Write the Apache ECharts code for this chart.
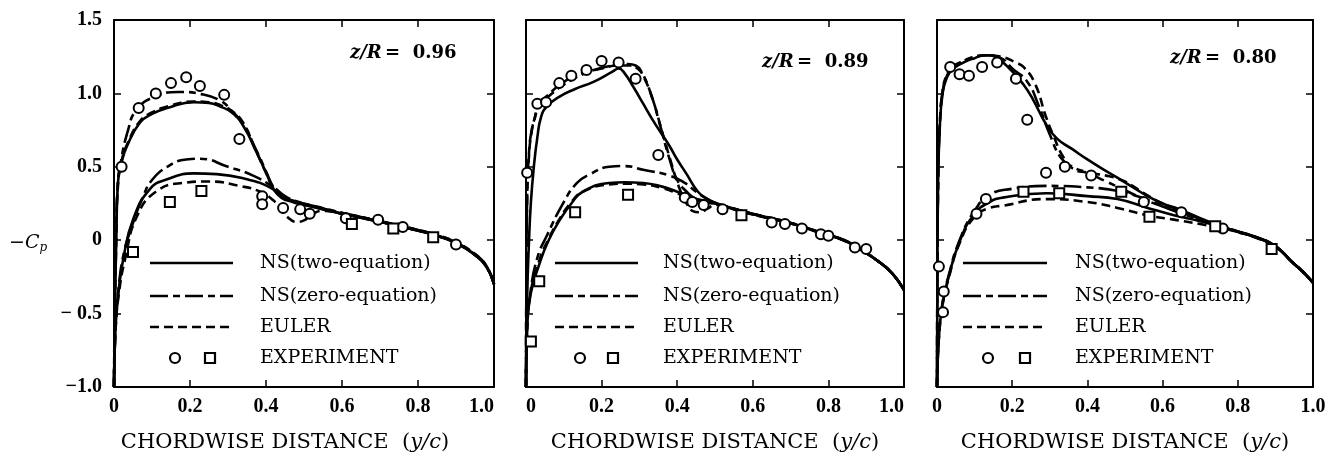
<!DOCTYPE html>
<html>
<head>
<meta charset="utf-8">
<script src="https://cdn.jsdelivr.net/npm/echarts@6/dist/echarts.min.js"></script>
<style>
  html, body { margin: 0; padding: 0; background: #fff; }
  #chart { width: 1330px; height: 460px; }
</style>
</head>
<body>
<div id="chart"></div>
<script>
// tick labels
var xTickLabels = ['0', '0.2', '0.4', '0.6', '0.8', '1.0'];
var yTickLabels = ['\u22121.0', '\u2212 0.5', '0', '0.5', '1.0', '1.5'];
var stationLabels = ['0.96', '0.89', '0.80'];
var legendNames = ['NS(two-equation)', 'NS(zero-equation)', 'EULER', 'EXPERIMENT'];

// ---- panel 1, z/R = 0.96 ----
var p1_ns2_up = [[0,-1],[0.003,-0.4],[0.006,0],[0.01,0.38],[0.02,0.53],[0.034,0.64],[0.068,0.8],[0.1,0.86],[0.14,0.9],[0.21,0.94],[0.25,0.935],[0.28,0.91],[0.31,0.87],[0.34,0.78],[0.375,0.6],[0.4,0.46],[0.42,0.35],[0.44,0.29],[0.47,0.26],[0.5,0.24],[0.55,0.21],[0.6,0.18],[0.7,0.125],[0.8,0.065],[0.85,0.03],[0.9,-0.02],[0.95,-0.1],[0.98,-0.18],[1.0,-0.3]];
var p1_ns2_lo = [[0,-1],[0.004,-0.6],[0.012,-0.35],[0.025,-0.12],[0.05,0.14],[0.095,0.35],[0.14,0.415],[0.21,0.455],[0.27,0.45],[0.35,0.415],[0.41,0.36],[0.44,0.3],[0.47,0.265],[0.5,0.245],[0.55,0.212],[0.6,0.182],[0.7,0.127],[0.8,0.067],[0.85,0.032],[0.9,-0.018],[0.95,-0.1],[0.98,-0.18],[1.0,-0.3]];
var p1_ns0_up = [[0,-1],[0.002,-0.4],[0.005,0.1],[0.01,0.35],[0.016,0.5],[0.037,0.75],[0.06,0.89],[0.11,0.98],[0.17,1.01],[0.23,0.995],[0.28,0.95],[0.31,0.88],[0.34,0.79],[0.375,0.61],[0.4,0.47],[0.42,0.36],[0.44,0.3],[0.47,0.265],[0.5,0.245],[0.55,0.215],[0.6,0.185],[0.7,0.13],[0.8,0.07],[0.85,0.035],[0.9,-0.015],[0.95,-0.095],[0.98,-0.175],[1.0,-0.3]];
var p1_ns0_lo = [[0,-1],[0.004,-0.6],[0.012,-0.33],[0.025,-0.1],[0.047,0.095],[0.077,0.3],[0.1,0.41],[0.14,0.5],[0.19,0.55],[0.226,0.555],[0.3,0.5],[0.366,0.44],[0.42,0.36],[0.45,0.3],[0.48,0.265],[0.5,0.25],[0.55,0.218],[0.6,0.187],[0.7,0.13],[0.8,0.07],[0.85,0.035],[0.9,-0.015],[0.95,-0.095],[0.98,-0.175],[1.0,-0.3]];
var p1_eu_up = [[0,-1],[0.003,-0.4],[0.006,0],[0.01,0.39],[0.02,0.54],[0.034,0.65],[0.068,0.81],[0.1,0.87],[0.14,0.91],[0.21,0.945],[0.25,0.94],[0.28,0.92],[0.31,0.88],[0.34,0.8],[0.37,0.63],[0.4,0.46],[0.42,0.35],[0.44,0.3],[0.47,0.27],[0.5,0.25],[0.55,0.215],[0.6,0.183],[0.7,0.127],[0.8,0.066],[0.85,0.03],[0.9,-0.02],[0.95,-0.1],[0.98,-0.18],[1.0,-0.3]];
var p1_eu_lo = [[0,-1],[0.004,-0.62],[0.013,-0.36],[0.03,-0.12],[0.06,0.16],[0.11,0.33],[0.18,0.39],[0.25,0.4],[0.33,0.37],[0.385,0.33],[0.42,0.27],[0.44,0.21],[0.46,0.15],[0.48,0.125],[0.5,0.135],[0.52,0.175],[0.55,0.2],[0.6,0.18],[0.7,0.125],[0.8,0.065],[0.85,0.03],[0.9,-0.02],[0.95,-0.1],[0.98,-0.18],[1.0,-0.3]];
var p1_exp_up = [[0.02,0.5],[0.065,0.9],[0.11,1.0],[0.15,1.07],[0.19,1.11],[0.226,1.05],[0.29,0.99],[0.33,0.69],[0.39,0.3],[0.39,0.245],[0.445,0.22],[0.49,0.21],[0.515,0.18],[0.61,0.15],[0.695,0.14],[0.76,0.09],[0.9,-0.03]];
var p1_exp_lo = [[0.05,-0.08],[0.147,0.26],[0.23,0.335],[0.626,0.11],[0.735,0.08],[0.84,0.02]];

// ---- panel 2, z/R = 0.89 ----
var p2_ns2_up = [[0,-1],[0.003,-0.4],[0.008,0],[0.013,0.26],[0.02,0.48],[0.03,0.7],[0.04,0.84],[0.055,0.91],[0.09,0.98],[0.13,1.03],[0.18,1.08],[0.23,1.15],[0.245,1.17],[0.26,1.14],[0.285,1.04],[0.31,0.93],[0.335,0.82],[0.36,0.72],[0.38,0.64],[0.4,0.55],[0.425,0.45],[0.455,0.33],[0.48,0.28],[0.5,0.255],[0.55,0.215],[0.6,0.178],[0.7,0.117],[0.79,0.042],[0.84,0.002],[0.875,-0.048],[0.93,-0.14],[0.97,-0.23],[1.0,-0.34]];
var p2_ns2_lo = [[0,-1],[0.003,-0.62],[0.012,-0.37],[0.037,-0.15],[0.06,0.0],[0.09,0.14],[0.12,0.25],[0.15,0.33],[0.22,0.39],[0.26,0.395],[0.31,0.39],[0.36,0.365],[0.4,0.33],[0.44,0.29],[0.47,0.27],[0.5,0.25],[0.55,0.213],[0.6,0.176],[0.7,0.115],[0.79,0.04],[0.84,0.0],[0.875,-0.05],[0.93,-0.14],[0.97,-0.23],[1.0,-0.34]];
var p2_ns0_up = [[0,-1],[0.001,-0.3],[0.003,0.3],[0.008,0.6],[0.015,0.75],[0.024,0.84],[0.03,0.93],[0.05,0.97],[0.09,1.06],[0.13,1.12],[0.18,1.16],[0.23,1.19],[0.27,1.2],[0.29,1.19],[0.305,1.15],[0.33,1.0],[0.355,0.78],[0.38,0.55],[0.4,0.41],[0.425,0.33],[0.45,0.28],[0.48,0.26],[0.5,0.25],[0.55,0.215],[0.6,0.18],[0.7,0.118],[0.79,0.043],[0.84,0.003],[0.875,-0.047],[0.93,-0.14],[0.97,-0.23],[1.0,-0.34]];
var p2_ns0_lo = [[0,-1],[0.003,-0.6],[0.012,-0.35],[0.03,-0.12],[0.055,0.03],[0.1,0.26],[0.135,0.39],[0.17,0.45],[0.22,0.5],[0.26,0.505],[0.31,0.48],[0.38,0.44],[0.42,0.39],[0.45,0.33],[0.48,0.28],[0.5,0.255],[0.55,0.216],[0.6,0.18],[0.7,0.118],[0.79,0.043],[0.84,0.003],[0.875,-0.047],[0.93,-0.14],[0.97,-0.23],[1.0,-0.34]];
var p2_eu_up = [[0,-1],[0.001,-0.3],[0.003,0.28],[0.008,0.58],[0.015,0.74],[0.025,0.85],[0.035,0.92],[0.06,0.98],[0.1,1.06],[0.15,1.13],[0.2,1.17],[0.25,1.19],[0.275,1.19],[0.295,1.17],[0.31,1.12],[0.335,0.96],[0.36,0.74],[0.385,0.52],[0.405,0.36],[0.425,0.25],[0.44,0.2],[0.46,0.19],[0.48,0.215],[0.5,0.24],[0.55,0.212],[0.6,0.176],[0.7,0.115],[0.79,0.04],[0.84,0.0],[0.875,-0.05],[0.93,-0.14],[0.97,-0.23],[1.0,-0.34]];
var p2_eu_lo = [[0,-1],[0.003,-0.6],[0.012,-0.36],[0.035,-0.14],[0.06,0.01],[0.09,0.15],[0.12,0.26],[0.15,0.33],[0.22,0.38],[0.26,0.385],[0.31,0.38],[0.36,0.355],[0.4,0.32],[0.44,0.28],[0.47,0.26],[0.5,0.245],[0.55,0.21],[0.6,0.175],[0.7,0.114],[0.79,0.04],[0.84,0.0],[0.875,-0.05],[0.93,-0.14],[0.97,-0.23],[1.0,-0.34]];
var p2_exp_up = [[0.003,0.46],[0.03,0.93],[0.053,0.94],[0.088,1.07],[0.12,1.12],[0.16,1.16],[0.2,1.22],[0.245,1.21],[0.29,1.1],[0.35,0.58],[0.42,0.29],[0.44,0.26],[0.47,0.24],[0.52,0.21],[0.65,0.12],[0.685,0.11],[0.73,0.08],[0.78,0.04],[0.8,0.03],[0.87,-0.05],[0.9,-0.06]];
var p2_exp_lo = [[0.013,-0.69],[0.035,-0.28],[0.13,0.19],[0.27,0.31],[0.57,0.17]];

// ---- panel 3, z/R = 0.80 ----
var p3_ns2_up = [[0,-1],[0.001,-0.3],[0.003,0.4],[0.008,0.8],[0.015,1.0],[0.025,1.1],[0.04,1.16],[0.07,1.21],[0.1,1.24],[0.13,1.26],[0.16,1.24],[0.2,1.15],[0.23,1.06],[0.255,0.96],[0.29,0.79],[0.32,0.69],[0.36,0.62],[0.4,0.55],[0.45,0.47],[0.49,0.41],[0.56,0.3],[0.6,0.25],[0.645,0.21],[0.7,0.15],[0.76,0.09],[0.8,0.06],[0.85,0.02],[0.9,-0.04],[0.945,-0.15],[0.975,-0.22],[1.0,-0.29]];
var p3_ns2_lo = [[0,-1],[0.005,-0.66],[0.015,-0.43],[0.03,-0.26],[0.06,-0.01],[0.1,0.18],[0.14,0.26],[0.175,0.29],[0.29,0.32],[0.4,0.3],[0.48,0.28],[0.56,0.22],[0.63,0.17],[0.7,0.13],[0.76,0.087],[0.8,0.058],[0.85,0.018],[0.9,-0.042],[0.945,-0.15],[0.975,-0.22],[1.0,-0.29]];
var p3_ns0_up = [[0,-1],[0.001,-0.3],[0.003,0.42],[0.008,0.82],[0.015,1.02],[0.025,1.12],[0.04,1.18],[0.07,1.22],[0.1,1.25],[0.13,1.26],[0.17,1.24],[0.2,1.17],[0.24,1.08],[0.27,0.92],[0.3,0.72],[0.33,0.56],[0.36,0.5],[0.4,0.46],[0.45,0.4],[0.5,0.34],[0.55,0.28],[0.6,0.23],[0.65,0.19],[0.7,0.145],[0.76,0.088],[0.8,0.058],[0.85,0.018],[0.9,-0.04],[0.945,-0.15],[0.975,-0.22],[1.0,-0.29]];
var p3_ns0_lo = [[0,-1],[0.005,-0.65],[0.015,-0.42],[0.03,-0.25],[0.06,0.0],[0.1,0.2],[0.14,0.31],[0.2,0.35],[0.29,0.37],[0.4,0.36],[0.47,0.34],[0.52,0.31],[0.575,0.26],[0.63,0.2],[0.7,0.14],[0.76,0.09],[0.8,0.06],[0.85,0.02],[0.9,-0.04],[0.945,-0.15],[0.975,-0.22],[1.0,-0.29]];
var p3_eu_up = [[0,-1],[0.001,-0.3],[0.003,0.41],[0.008,0.81],[0.015,1.01],[0.025,1.11],[0.04,1.17],[0.07,1.22],[0.1,1.25],[0.13,1.26],[0.17,1.25],[0.21,1.21],[0.23,1.18],[0.26,1.07],[0.29,0.84],[0.31,0.71],[0.335,0.57],[0.36,0.49],[0.4,0.46],[0.45,0.44],[0.49,0.41],[0.52,0.37],[0.55,0.32],[0.6,0.25],[0.65,0.2],[0.7,0.145],[0.76,0.087],[0.8,0.057],[0.85,0.017],[0.9,-0.042],[0.945,-0.15],[0.975,-0.22],[1.0,-0.29]];
var p3_eu_lo = [[0,-1],[0.005,-0.67],[0.015,-0.44],[0.03,-0.27],[0.06,-0.02],[0.1,0.16],[0.14,0.22],[0.175,0.235],[0.29,0.28],[0.4,0.26],[0.48,0.22],[0.56,0.17],[0.63,0.14],[0.7,0.11],[0.76,0.08],[0.8,0.055],[0.85,0.015],[0.9,-0.045],[0.945,-0.15],[0.975,-0.22],[1.0,-0.29]];
var p3_exp_up = [[0.005,-0.18],[0.018,-0.35],[0.016,-0.49],[0.035,1.18],[0.06,1.13],[0.085,1.12],[0.12,1.18],[0.16,1.21],[0.21,1.1],[0.24,0.82],[0.29,0.46],[0.34,0.5],[0.41,0.44],[0.55,0.26],[0.65,0.19],[0.76,0.08],[0.105,0.18],[0.13,0.28]];
var p3_exp_lo = [[0.23,0.33],[0.325,0.32],[0.49,0.33],[0.565,0.16],[0.74,0.095],[0.89,-0.06]];

var panels = [
  { ns2: [p1_ns2_up, p1_ns2_lo], ns0: [p1_ns0_up, p1_ns0_lo], eu: [p1_eu_up, p1_eu_lo], up: p1_exp_up, lo: p1_exp_lo },
  { ns2: [p2_ns2_up, p2_ns2_lo], ns0: [p2_ns0_up, p2_ns0_lo], eu: [p2_eu_up, p2_eu_lo], up: p2_exp_up, lo: p2_exp_lo },
  { ns2: [p3_ns2_up, p3_ns2_lo], ns0: [p3_ns0_up, p3_ns0_lo], eu: [p3_eu_up, p3_eu_lo], up: p3_exp_up, lo: p3_exp_lo }
];

var gridBox = [
  { left: 114, top: 20, width: 380, height: 367 },
  { left: 526, top: 20, width: 378, height: 367 },
  { left: 937, top: 20, width: 376, height: 367 }
];
// the first panel's axis title sits a little left of centre
var titlePad = [[0, 38, 0, 0], 0, 0];

var dashZero = [18, 5, 7, 5];
var dashEuler = [9, 5];
var serif = 'DejaVu Serif';
var tickFont = 'Liberation Serif';

var myChart = echarts.init(document.getElementById('chart'), null, { renderer: 'canvas' });

var xAxes = [], yAxes = [], series = [], graphics = [];

var frameLine = { show: true, onZero: false, lineStyle: { color: '#000', width: 2 } };
var inTick = { show: true, inside: true, length: 7, lineStyle: { color: '#000', width: 1.5 } };

for (var i = 0; i < 3; i++) {
  // bottom + top x axes
  xAxes.push({
    type: 'value', gridIndex: i, min: 0, max: 1, interval: 0.2, position: 'bottom',
    axisLine: frameLine, axisTick: inTick, splitLine: { show: false },
    axisLabel: {
      margin: 10, color: '#000', fontFamily: tickFont, fontWeight: 'bold', fontSize: 20,
      alignMinLabel: i == 1 ? 'left' : 'center', alignMaxLabel: i == 2 ? 'center' : 'right',
      formatter: function (v) { return xTickLabels[Math.round(v / 0.2)]; }
    },
    name: 'CHORDWISE DISTANCE  ({it|y/c})', nameLocation: 'middle', nameGap: 45,
    nameTextStyle: {
      color: '#000', fontFamily: serif, fontSize: 21, padding: titlePad[i],
      rich: { it: { fontFamily: serif, fontStyle: 'italic', fontSize: 21, color: '#000' } }
    }
  });
  xAxes.push({
    type: 'value', gridIndex: i, min: 0, max: 1, interval: 0.2, position: 'top',
    axisLine: frameLine, axisTick: inTick, axisLabel: { show: false }, splitLine: { show: false }
  });
  // left + right y axes
  yAxes.push({
    type: 'value', gridIndex: i, min: -1, max: 1.5, interval: 0.5, position: 'left',
    axisLine: frameLine, axisTick: inTick, splitLine: { show: false },
    axisLabel: {
      show: i == 0, margin: 12, color: '#000', fontFamily: tickFont, fontWeight: 'bold', fontSize: 20,
      formatter: function (v) { return yTickLabels[Math.round((v + 1) / 0.5)]; }
    }
  });
  yAxes.push({
    type: 'value', gridIndex: i, min: -1, max: 1.5, interval: 0.5, position: 'right',
    axisLine: frameLine, axisTick: inTick, axisLabel: { show: false }, splitLine: { show: false }
  });

  var p = panels[i];
  var groups = [[legendNames[0], p.ns2, 'solid'], [legendNames[1], p.ns0, dashZero], [legendNames[2], p.eu, dashEuler]];
  groups.forEach(function (g) {
    g[1].forEach(function (d) {
      series.push({
        name: g[0], type: 'line', xAxisIndex: i * 2, yAxisIndex: i * 2, data: d,
        showSymbol: false, smooth: 0.5, silent: true, z: 3,
        lineStyle: { color: '#000', width: 2.6, type: g[2], cap: 'butt', join: 'round' }
      });
    });
  });
  series.push({
    name: 'EXPERIMENT', type: 'scatter', xAxisIndex: i * 2, yAxisIndex: i * 2, data: p.up,
    symbol: 'circle', symbolSize: 10, silent: true, z: 5,
    itemStyle: { color: '#fff', borderColor: '#000', borderWidth: 2, opacity: 1 }
  });
  series.push({
    name: 'EXPERIMENT', type: 'scatter', xAxisIndex: i * 2, yAxisIndex: i * 2, data: p.lo,
    symbol: 'rect', symbolSize: 10, silent: true, z: 5,
    itemStyle: { color: '#fff', borderColor: '#000', borderWidth: 2, opacity: 1 }
  });
}

// legends inside each panel: [lineStart, lineEnd, textX, circleX, squareX]
var legendPos = [[150, 233, 260, 175, 210], [555, 638, 663, 580, 613], [963, 1047, 1075, 988, 1025]];
var legendRows = [263, 296, 327, 358];
var legendDash = [null, dashZero, dashEuler];
legendPos.forEach(function (lp) {
  for (var r = 0; r < 3; r++) {
    graphics.push({
      type: 'line', silent: true,
      shape: { x1: lp[0], y1: legendRows[r], x2: lp[1], y2: legendRows[r] },
      style: { stroke: '#000', lineWidth: 2.6, lineDash: legendDash[r] }
    });
  }
  graphics.push({ type: 'circle', silent: true, shape: { cx: lp[3], cy: legendRows[3], r: 5 },
    style: { fill: '#fff', stroke: '#000', lineWidth: 2.2 } });
  graphics.push({ type: 'rect', silent: true, shape: { x: lp[4] - 5, y: legendRows[3] - 5, width: 10, height: 10 },
    style: { fill: '#fff', stroke: '#000', lineWidth: 2.2 } });
  for (var r2 = 0; r2 < 4; r2++) {
    graphics.push({
      type: 'text', silent: true, x: lp[2], y: legendRows[r2],
      style: { text: legendNames[r2], fill: '#000', font: '19px "DejaVu Serif"', verticalAlign: 'middle' }
    });
  }
});

// station labels z/R
var stationPos = [[350, 53], [762, 62], [1170, 58]];
stationPos.forEach(function (sp, k) {
  graphics.push({
    type: 'text', silent: true, x: sp[0], y: sp[1],
    style: {
      text: '{it|z/R} {b|=  ' + stationLabels[k] + '}', verticalAlign: 'middle',
      rich: {
        it: { fontFamily: serif, fontStyle: 'italic', fontWeight: 'bold', fontSize: 18, fill: '#000' },
        b: { fontFamily: serif, fontWeight: 'bold', fontSize: 18, fill: '#000' }
      }
    }
  });
});

// y axis title  -Cp
graphics.push({
  type: 'text', silent: true, x: 9, y: 243,
  style: {
    text: '{it|\u2212C}{sub|p}', verticalAlign: 'middle',
    rich: {
      it: { fontFamily: serif, fontStyle: 'italic', fontSize: 19, fill: '#000' },
      sub: { fontFamily: serif, fontStyle: 'italic', fontSize: 12, fill: '#000', padding: [10, 0, 0, 0] }
    }
  }
});

myChart.setOption({
  backgroundColor: '#fff',
  animation: false,
  grid: gridBox,
  xAxis: xAxes,
  yAxis: yAxes,
  series: series,
  graphic: graphics
});
</script>
</body>
</html>
